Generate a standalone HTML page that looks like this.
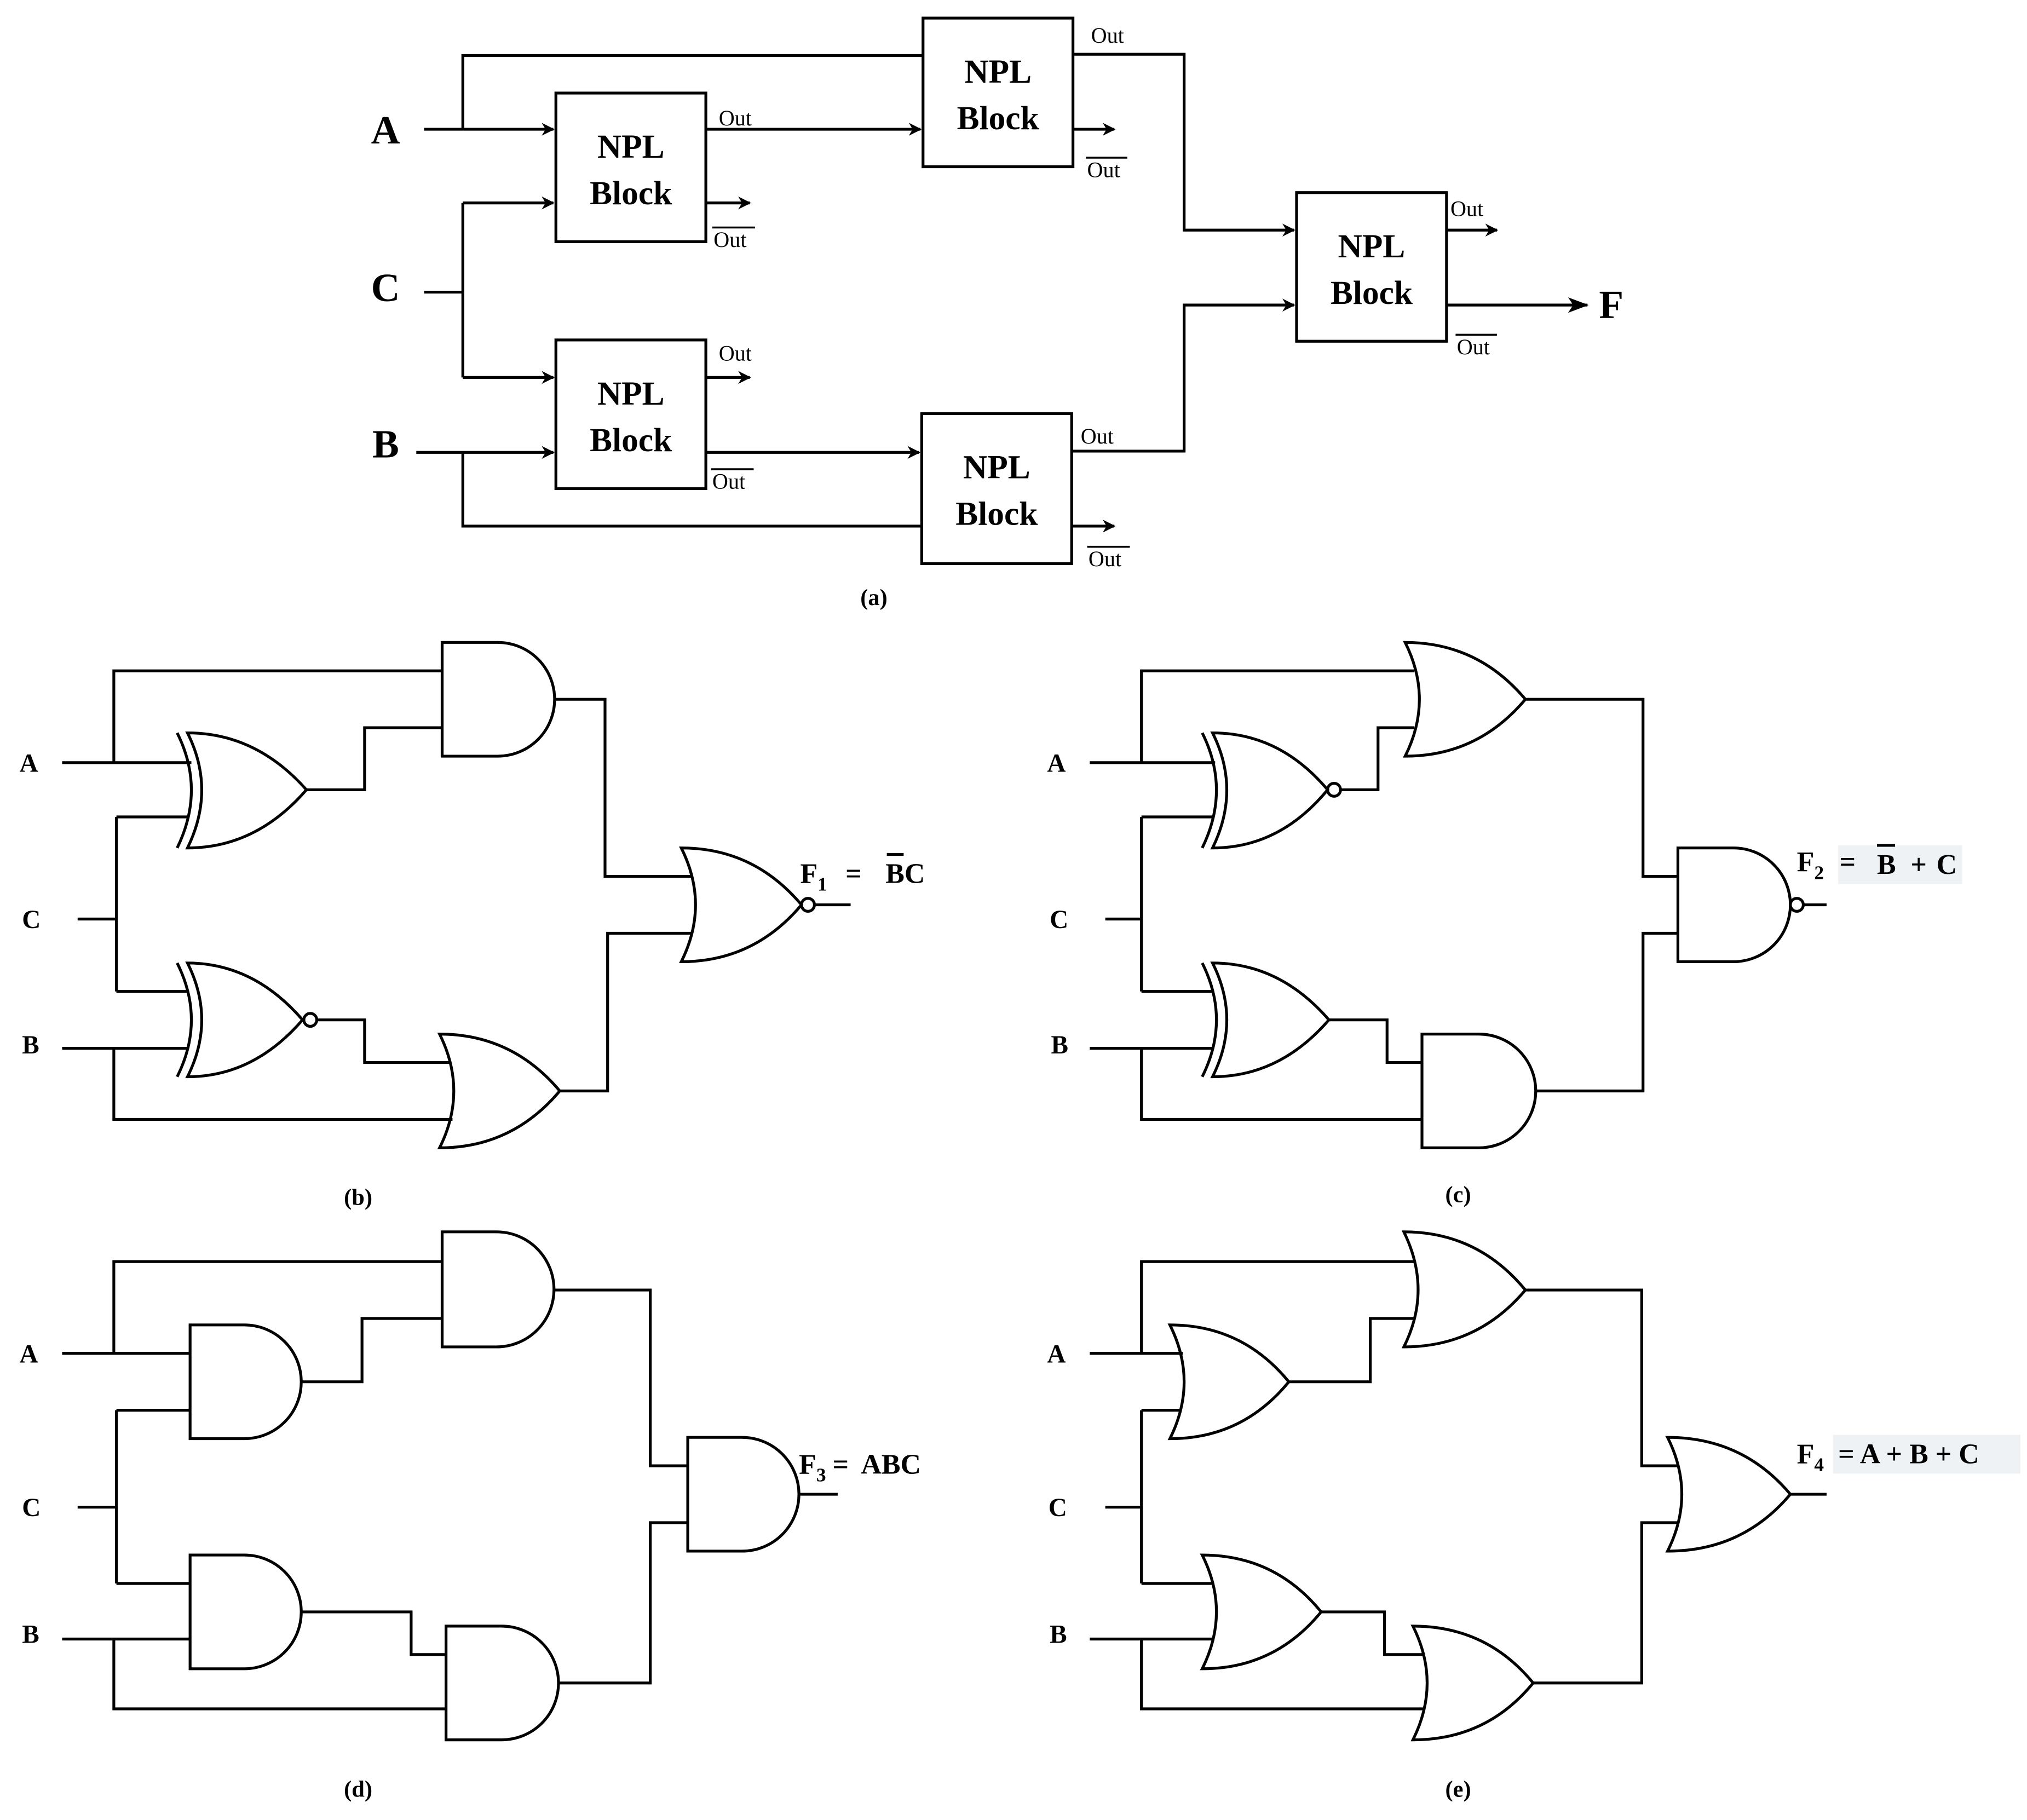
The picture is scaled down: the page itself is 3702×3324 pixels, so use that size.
<!DOCTYPE html>
<html><head><meta charset="utf-8">
<style>
html,body{margin:0;padding:0;background:#fff;}
svg{display:block;}
text{font-family:"Liberation Serif",serif;font-weight:bold;fill:#000;}
</style></head>
<body>
<svg width="3702" height="3324" viewBox="0 0 1568 1408" xmlns="http://www.w3.org/2000/svg">
<defs>
<marker id="ar" markerWidth="10" markerHeight="10" refX="9" refY="5" orient="auto" markerUnits="userSpaceOnUse">
<path d="M0,0 L10,5 L0,10 L3,5 Z" fill="#000"/>
</marker>
<marker id="ar2" markerWidth="16" markerHeight="12" refX="15" refY="6" orient="auto" markerUnits="userSpaceOnUse">
<path d="M0,0 L16,6 L0,12 L4,6 Z" fill="#000"/>
</marker>
</defs>
<g fill="none" stroke="#000" stroke-width="2.2">
<rect x="714" y="14" width="116" height="115"/>
<rect x="430" y="72" width="116" height="115"/>
<rect x="430" y="263" width="116" height="115"/>
<rect x="713" y="320" width="116" height="116"/>
<rect x="1003" y="149" width="116" height="115"/>
<path d="M328,100 H428" marker-end="url(#ar)"/>
<path d="M358,100 V43 H714"/>
<path d="M328,226 H358 M358,157 V292"/>
<path d="M358,157 H428" marker-end="url(#ar)"/>
<path d="M358,292 H428" marker-end="url(#ar)"/>
<path d="M322,350 H428" marker-end="url(#ar)"/>
<path d="M358,350 V407 H713"/>
<path d="M546,100 H712" marker-end="url(#ar)"/>
<path d="M546,157 H580" marker-end="url(#ar)"/>
<path d="M546,292 H580" marker-end="url(#ar)"/>
<path d="M546,350 H711" marker-end="url(#ar)"/>
<path d="M830,42 H916 V178 H1001" marker-end="url(#ar)"/>
<path d="M830,100 H862" marker-end="url(#ar)"/>
<path d="M829,349 H916 V236 H1001" marker-end="url(#ar)"/>
<path d="M829,407 H862" marker-end="url(#ar)"/>
<path d="M1119,178 H1158" marker-end="url(#ar)"/>
<path d="M1119,236 H1228" marker-end="url(#ar2)"/>

<path d="M145,567 Q198,567 237,611 Q198,656 145,656 Q167,611 145,567 Z"/>
<path d="M137,567 Q159,611 137,656"/>
<path d="M145,745 Q196,745 234,789 Q196,833 145,833 Q167,789 145,745 Z"/>
<path d="M137,745 Q159,789 137,833"/>
<circle cx="240" cy="789" r="5"/>
<path d="M342,497 H385 A44,44 0 0 1 385,585 H342 Z"/>
<path d="M340,800 Q396,800 433,844 Q396,888 340,888 Q362,844 340,800 Z"/>
<path d="M527,656 Q583,656 620,700 Q583,744 527,744 Q549,700 527,656 Z"/>
<circle cx="625" cy="700" r="5"/>
<path d="M48,590 H148 M88,590 V519 H342"/>
<path d="M60,711 H90 M90,632 V767 M90,632 H146 M90,767 H146"/>
<path d="M48,811 H146 M88,811 V866 H350"/>
<path d="M237,611 H282 V563 H342"/>
<path d="M245,789 H282 V822 H348"/>
<path d="M428,541 H468 V678 H535"/>
<path d="M433,844 H470 V722 H535"/>
<path d="M630,700 H658"/>

<path d="M1087,497 Q1143,497 1180,541 Q1143,585 1087,585 Q1109,541 1087,497 Z"/>
<path d="M938,567 Q990,567 1027,611 Q990,656 938,656 Q960,611 938,567 Z"/>
<path d="M930,567 Q952,611 930,656"/>
<circle cx="1032" cy="611" r="5"/>
<path d="M938,745 Q990,745 1028,789 Q990,833 938,833 Q960,789 938,745 Z"/>
<path d="M930,745 Q952,789 930,833"/>
<path d="M1100,800 H1144 A44,44 0 0 1 1144,888 H1100 Z"/>
<path d="M1298,656 H1341 A44,44 0 0 1 1341,744 H1298 Z"/>
<circle cx="1390" cy="700" r="5"/>
<path d="M843,590 H940 M883,590 V519 H1094"/>
<path d="M855,711 H883 M883,632 V767 M883,632 H939 M883,767 H939"/>
<path d="M843,811 H939 M883,811 V866 H1100"/>
<path d="M1037,611 H1066 V563 H1094"/>
<path d="M1028,789 H1073 V822 H1100"/>
<path d="M1180,541 H1271 V678 H1298"/>
<path d="M1188,844 H1271 V722 H1298"/>
<path d="M1395,700 H1413"/>

<path d="M342,953 H384 A44,44 0 0 1 384,1042 H342 Z"/>
<path d="M147,1025 H189 A44,44 0 0 1 189,1113 H147 Z"/>
<path d="M147,1203 H189 A44,44 0 0 1 189,1291 H147 Z"/>
<path d="M345,1258 H388 A44,44 0 0 1 388,1346 H345 Z"/>
<path d="M532,1112 H574 A44,44 0 0 1 574,1200 H532 Z"/>
<path d="M48,1047 H147 M88,1047 V976 H342"/>
<path d="M60,1166 H90 M90,1091 V1225 M90,1091 H147 M90,1225 H147"/>
<path d="M48,1268 H147 M88,1268 V1322 H345"/>
<path d="M233,1069 H280 V1020 H342"/>
<path d="M233,1247 H318 V1280 H345"/>
<path d="M428,998 H503 V1134 H532"/>
<path d="M432,1302 H503 V1178 H532"/>
<path d="M618,1156 H648"/>

<path d="M1086,953 Q1143,953 1180,998 Q1143,1042 1086,1042 Q1108,998 1086,953 Z"/>
<path d="M905,1025 Q961,1025 997,1069 Q961,1113 905,1113 Q927,1069 905,1025 Z"/>
<path d="M930,1203 Q986,1203 1022,1247 Q986,1291 930,1291 Q952,1247 930,1203 Z"/>
<path d="M1093,1258 Q1150,1258 1186,1302 Q1150,1346 1093,1346 Q1115,1302 1093,1258 Z"/>
<path d="M1290,1112 Q1348,1112 1385,1156 Q1348,1200 1290,1200 Q1312,1156 1290,1112 Z"/>
<path d="M843,1047 H915 M883,1047 V976 H1095"/>
<path d="M855,1166 H883 M883,1091 V1225 M883,1091 H914 M883,1225 H939"/>
<path d="M843,1268 H939 M883,1268 V1322 H1102"/>
<path d="M997,1069 H1060 V1020 H1094"/>
<path d="M1022,1247 H1071 V1280 H1101"/>
<path d="M1180,998 H1270 V1134 H1299"/>
<path d="M1186,1302 H1270 V1178 H1299"/>
<path d="M1385,1156 H1413"/>
</g>

<g font-size="26" text-anchor="middle">
<text x="772" y="64">NPL</text><text x="772" y="100">Block</text>
<text x="488" y="122">NPL</text><text x="488" y="158">Block</text>
<text x="488" y="313">NPL</text><text x="488" y="349">Block</text>
<text x="771" y="370">NPL</text><text x="771" y="406">Block</text>
<text x="1061" y="199">NPL</text><text x="1061" y="235">Block</text>
</g>
<g font-size="31">
<text x="287" y="111">A</text>
<text x="287" y="233">C</text>
<text x="288" y="354">B</text>
<text x="1237" y="246">F</text>
</g>
<g font-size="17">
<text x="556" y="97" style="font-weight:normal">Out</text>
<text x="552" y="191" style="font-weight:normal">Out</text>
<text x="556" y="279" style="font-weight:normal">Out</text>
<text x="551" y="378" style="font-weight:normal">Out</text>
<text x="844" y="33" style="font-weight:normal">Out</text>
<text x="841" y="137" style="font-weight:normal">Out</text>
<text x="836" y="343" style="font-weight:normal">Out</text>
<text x="842" y="438" style="font-weight:normal">Out</text>
<text x="1122" y="167" style="font-weight:normal">Out</text>
<text x="1127" y="274" style="font-weight:normal">Out</text>
</g>
<g stroke="#000" stroke-width="1.5">
<path d="M551,176 H584 M550,363 H583 M840,122 H872 M841,423 H874 M1126,259 H1158"/>
</g>
<g font-size="18" text-anchor="middle">
<text x="676" y="468">(a)</text>
<text x="277" y="932">(b)</text>
<text x="1128" y="930">(c)</text>
<text x="277" y="1390">(d)</text>
<text x="1128" y="1390">(e)</text>
</g>
<g font-size="20">
<text x="15" y="597">A</text><text x="17" y="718">C</text><text x="17" y="815">B</text>
<text x="810" y="597">A</text><text x="812" y="718">C</text><text x="813" y="815">B</text>
<text x="15" y="1054">A</text><text x="17" y="1173">C</text><text x="17" y="1271">B</text>
<text x="810" y="1054">A</text><text x="811" y="1173">C</text><text x="812" y="1271">B</text>
</g>
<g font-size="22">
<text x="619" y="683">F<tspan font-size="15" dy="6">1</tspan></text>
<text x="654" y="683">=</text>
<text x="685" y="683">BC</text>
<rect x="1422" y="654" width="96" height="30" fill="#eef2f4"/>
<text x="1390" y="674">F<tspan font-size="15" dy="6">2</tspan></text>
<text x="1423" y="674">=</text>
<text x="1452" y="676">B</text>
<text x="1478" y="676">+</text>
<text x="1498" y="676">C</text>
<text x="618" y="1140">F<tspan font-size="15" dy="6">3</tspan></text>
<text x="644" y="1140">=</text>
<text x="666" y="1140">ABC</text>
<rect x="1418" y="1110" width="145" height="30" fill="#eef2f4"/>
<text x="1390" y="1132">F<tspan font-size="15" dy="6">4</tspan></text>
<text x="1422" y="1132">=  A + B + C</text>
</g>
<g stroke="#000" stroke-width="2.2">
<path d="M686,661 H699 M1452,654 H1466"/>
</g>
</svg>
</body></html>
